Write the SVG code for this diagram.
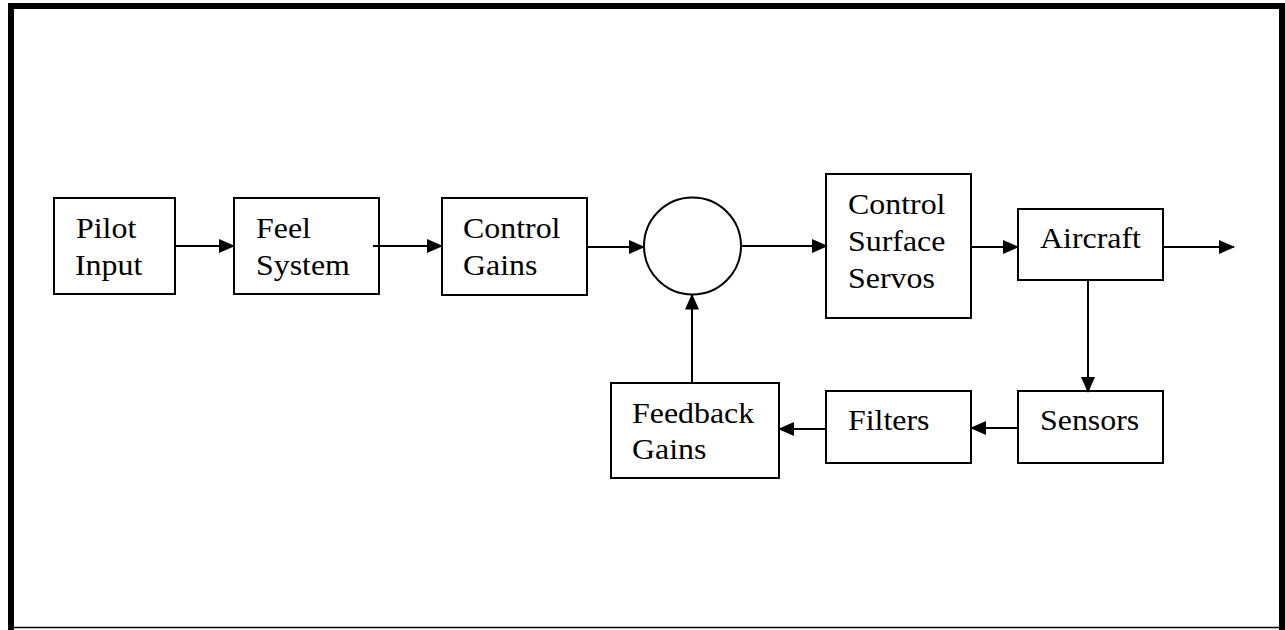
<svg xmlns="http://www.w3.org/2000/svg" width="1285" height="630" viewBox="0 0 1285 630">
<style>
.box{fill:#fff;stroke:#000;stroke-width:2}
.lbl{font-family:"Liberation Serif","Times New Roman",serif;font-size:29px;fill:#000}
.cn{stroke:#000;stroke-width:2;fill:none}
</style>
<defs>
<marker id="ah" markerUnits="userSpaceOnUse" markerWidth="16" markerHeight="14" viewBox="0 0 16 14" refX="15" refY="7" orient="auto">
<path d="M0,0 L16,7 L0,14 Z" fill="#000"/>
</marker>
</defs>
<rect x="0" y="0" width="1285" height="630" fill="#fff"/>
<g id="frame" fill="none" stroke="#000">
<path d="M11,630 V6 H1282 V630" stroke-width="6"/>
<line x1="11" y1="627.5" x2="1282" y2="627.5" stroke-width="1.5"/>
</g>
<g id="pilot-input">
<rect class="box" x="54" y="198" width="121" height="96"/>
<text class="lbl" transform="matrix(1.1 0 0 1 76 238)">Pilot</text>
<text class="lbl" transform="matrix(1.1 0 0 1 75 275)">Input</text>
</g>
<g id="feel-system">
<rect class="box" x="234" y="198" width="145" height="96"/>
<text class="lbl" transform="matrix(1.1 0 0 1 256 238)">Feel</text>
<text class="lbl" transform="matrix(1.1 0 0 1 256 275)">System</text>
</g>
<g id="control-gains">
<rect class="box" x="442" y="198" width="145" height="97"/>
<text class="lbl" transform="matrix(1.1 0 0 1 463 238)">Control</text>
<text class="lbl" transform="matrix(1.1 0 0 1 463 275)">Gains</text>
</g>
<g id="summing-junction">
<circle class="box" cx="692.5" cy="246" r="48.5"/>
</g>
<g id="control-surface-servos">
<rect class="box" x="826" y="174" width="145" height="144"/>
<text class="lbl" transform="matrix(1.1 0 0 1 848 214)">Control</text>
<text class="lbl" transform="matrix(1.1 0 0 1 848 251)">Surface</text>
<text class="lbl" transform="matrix(1.1 0 0 1 848 288)">Servos</text>
</g>
<g id="aircraft">
<rect class="box" x="1018" y="209" width="145" height="71"/>
<text class="lbl" transform="matrix(1.1 0 0 1 1040 248)">Aircraft</text>
</g>
<g id="sensors">
<rect class="box" x="1018" y="391" width="145" height="72"/>
<text class="lbl" transform="matrix(1.1 0 0 1 1040 430)">Sensors</text>
</g>
<g id="filters">
<rect class="box" x="826" y="391" width="145" height="72"/>
<text class="lbl" transform="matrix(1.1 0 0 1 848 430)">Filters</text>
</g>
<g id="feedback-gains">
<rect class="box" x="611" y="383" width="168" height="95"/>
<text class="lbl" transform="matrix(1.1 0 0 1 632 423)">Feedback</text>
<text class="lbl" transform="matrix(1.1 0 0 1 632 459)">Gains</text>
</g>
<g id="connectors">
<line class="cn" x1="175" y1="246" x2="234" y2="246" marker-end="url(#ah)"/>
<line class="cn" x1="373" y1="246" x2="442" y2="246" marker-end="url(#ah)"/>
<line class="cn" x1="588" y1="247" x2="644" y2="247" marker-end="url(#ah)"/>
<line class="cn" x1="740" y1="246" x2="827" y2="246" marker-end="url(#ah)"/>
<line class="cn" x1="971" y1="247" x2="1018" y2="247" marker-end="url(#ah)"/>
<line class="cn" x1="1163" y1="247" x2="1234" y2="247" marker-end="url(#ah)"/>
<line class="cn" x1="1088" y1="280" x2="1088" y2="392" marker-end="url(#ah)"/>
<line class="cn" x1="1017" y1="428" x2="971" y2="428" marker-end="url(#ah)"/>
<line class="cn" x1="826" y1="429" x2="779" y2="429" marker-end="url(#ah)"/>
<line class="cn" x1="692" y1="383" x2="692" y2="294.5" marker-end="url(#ah)"/>
</g>
</svg>
